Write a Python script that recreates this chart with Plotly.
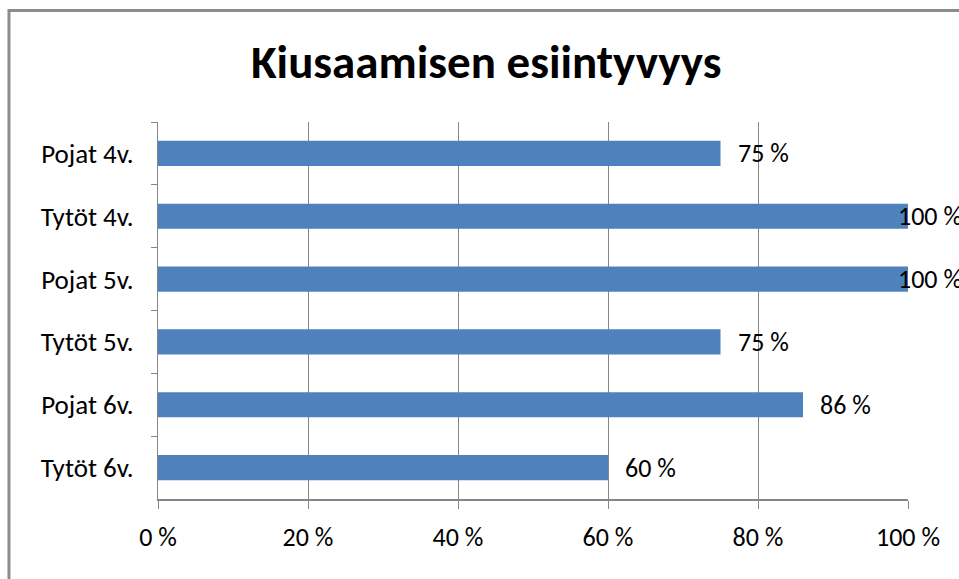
import plotly.graph_objects as go

categories = ["Pojat 4v.", "Tytöt 4v.", "Pojat 5v.", "Tytöt 5v.", "Pojat 6v.", "Tytöt 6v."]
values = [75, 100, 100, 75, 86, 60]
x_ticks = [0, 20, 40, 60, 80, 100]
x_tick_labels = ["0 %", "20 %", "40 %", "60 %", "80 %", "100 %"]
title_text = "Kiusaamisen esiintyvyys"

FONT = "Carlito, 'Liberation Sans Narrow', 'Arial Narrow', sans-serif"
GREY = "#868686"

fig = go.Figure()
fig.add_trace(go.Bar(
    x=values, y=categories, orientation="h",
    marker=dict(color="#4F81BD", line=dict(width=0)),
    hoverinfo="skip",
))

for c, v in zip(categories, values):
    fig.add_annotation(
        x=v, y=c, xref="x", yref="y", text=f"{v} %", showarrow=False,
        xanchor="left", yanchor="middle",
        xshift=15 if v < 100 else -12,
        font=dict(family=FONT, size=26, color="black"),
    )

# chart border (Excel chart area)
fig.add_shape(type="rect", xref="paper", yref="paper",
              x0=-0.1987, x1=1.2, y0=-0.4, y1=1.2955,
              line=dict(color="#8c8c8c", width=3), fillcolor="rgba(0,0,0,0)",
              layer="below")

fig.update_layout(
    width=959, height=579,
    margin=dict(l=158, r=51, t=122, b=80),
    paper_bgcolor="white", plot_bgcolor="white",
    showlegend=False,
    bargap=0.6,
    title=dict(text=f"<b>{title_text}</b>", x=0.507, xref="container", xanchor="center",
               y=0.893, yref="container", yanchor="middle",
               font=dict(family=FONT, size=47, color="black")),
    xaxis=dict(range=[0, 100], tickvals=x_ticks, ticktext=x_tick_labels,
               showgrid=True, gridcolor=GREY, gridwidth=1,
               showline=True, linecolor=GREY, linewidth=2,
               ticks="outside", ticklen=8, tickcolor=GREY, tickwidth=1,
               ticklabelstandoff=6, zeroline=False,
               tickfont=dict(family=FONT, size=26, color="black"),
               fixedrange=True),
    yaxis=dict(categoryorder="array", categoryarray=categories, autorange="reversed",
               showgrid=False, showline=True, linecolor=GREY, linewidth=1,
               ticks="outside", ticklen=6, tickcolor=GREY, tickwidth=1,
               tickson="boundaries", ticklabelstandoff=18,
               tickfont=dict(family=FONT, size=27, color="black"),
               fixedrange=True),
)

fig.write_html("out.html")
